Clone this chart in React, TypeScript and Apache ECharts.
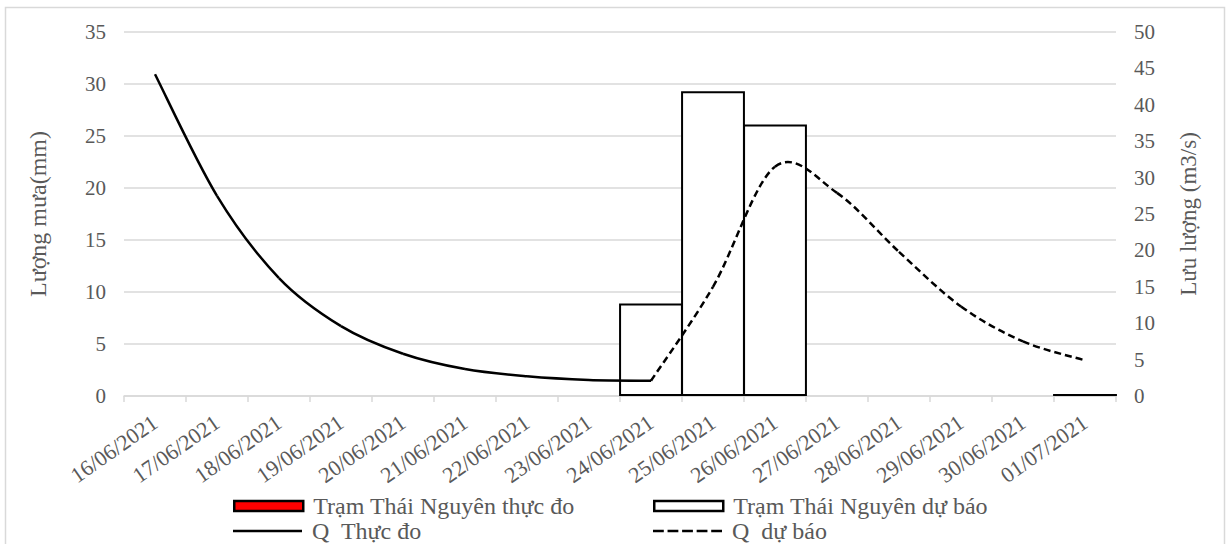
import React, { useEffect, useRef } from "react";
import * as echarts from "echarts";

const categories = [
  "16/06/2021", "17/06/2021", "18/06/2021", "19/06/2021", "20/06/2021", "21/06/2021",
  "22/06/2021", "23/06/2021", "24/06/2021", "25/06/2021", "26/06/2021", "27/06/2021",
  "28/06/2021", "29/06/2021", "30/06/2021", "01/07/2021",
];
const rainObserved = [null, null, null, null, null, null, null, null, null, null, null, null, null, null, null, null];
const rainForecast = [null, null, null, null, null, null, null, null, 8.9, 29.3, 26.1, null, null, null, null, 0.2];
const flowObserved = [44.2, 27.5, 16.2, 9.6, 5.8, 3.7, 2.7, 2.2, 2.1, null, null, null, null, null, null, null];
const flowForecast = [null, null, null, null, null, null, null, null, 2.1, 15.0, 31.5, 27.9, 19.8, 12.3, 7.5, 4.9];

const leftTicks = { min: 0, max: 35, interval: 5 };
const rightTicks = { min: 0, max: 50, interval: 5 };

const FONT = "'Liberation Serif', 'Times New Roman', serif";
const GRAY = "#595959";
const GRID = "#d9d9d9";

const SOLID_ICON = "path://M0,0H69V2.6H0Z";
const DASH_ICON =
  "path://M0,0H10.8V2.6H0Z M14.55,0H25.35V2.6H14.55Z M29.1,0H39.9V2.6H29.1Z M43.65,0H54.45V2.6H43.65Z M58.2,0H69V2.6H58.2Z";

// Excel-like smoothed line: each data item draws the cubic segment to the next point.
function smoothSegment(values: (number | null)[], dash: number[] | null) {
  return (params: any, api: any) => {
    const i = params.dataIndex;
    if (values[i] == null || values[i + 1] == null) return null;
    const pt = (k: number) => api.coord([k, values[k]]);
    const p1 = pt(i);
    const p2 = pt(i + 1);
    const p0 = i - 1 >= 0 && values[i - 1] != null ? pt(i - 1) : p1;
    const p3 = i + 2 < values.length && values[i + 2] != null ? pt(i + 2) : p2;
    return {
      type: "bezierCurve",
      shape: {
        x1: p1[0],
        y1: p1[1],
        cpx1: p1[0] + (p2[0] - p0[0]) / 6,
        cpy1: p1[1] + (p2[1] - p0[1]) / 6,
        cpx2: p2[0] - (p3[0] - p1[0]) / 6,
        cpy2: p2[1] - (p3[1] - p1[1]) / 6,
        x2: p2[0],
        y2: p2[1],
      },
      style: { stroke: "#000", lineWidth: 2.5, fill: null, lineDash: dash || undefined },
    };
  };
}

export default function App() {
  const ref = useRef<HTMLDivElement>(null);
  useEffect(() => {
    if (!ref.current) return;
    const chart = echarts.init(ref.current, undefined, { renderer: "svg" });
    const labelStyle = { color: GRAY, fontSize: 21, fontFamily: FONT };
    const legendText = { color: GRAY, fontSize: 24, fontFamily: FONT, lineHeight: 24, padding: [0, 0, 0, 5] };
    const legendBase = {
      orient: "horizontal",
      itemWidth: 69,
      itemHeight: 10,
      itemGap: 10,
      padding: 0,
      textStyle: legendText,
      itemStyle: { borderColor: "#000000", borderWidth: 2.5 },
    };
    chart.setOption({
      animation: false,
      backgroundColor: "#ffffff",
      textStyle: { fontFamily: FONT },
      graphic: [
        {
          type: "rect",
          shape: { x: 5.5, y: 7.5, width: 1219, height: 560 },
          style: { fill: "none", stroke: GRID, lineWidth: 1.5 },
          silent: true,
          z: -10,
        },
      ],
      grid: { left: 124, right: 116, top: 32, bottom: 148 },
      legend: [
        {
          ...legendBase,
          left: 233,
          top: 494,
          data: [
            { name: "Trạm Thái Nguyên thực đo", icon: "rect", itemStyle: { color: "#ff0000", borderColor: "#000000", borderWidth: 2.5 } },
          ],
        },
        {
          ...legendBase,
          left: 233,
          top: 519,
          itemStyle: { borderWidth: 0 },
          data: [{ name: "Q  Thực đo", icon: SOLID_ICON, itemStyle: { color: "#000000", borderWidth: 0 } }],
        },
        {
          ...legendBase,
          left: 653,
          top: 494,
          data: [
            { name: "Trạm Thái Nguyên dự báo", icon: "rect", itemStyle: { color: "#ffffff", borderColor: "#000000", borderWidth: 2.5 } },
          ],
        },
        {
          ...legendBase,
          left: 653,
          top: 519,
          itemStyle: { borderWidth: 0 },
          data: [{ name: "Q  dự báo", icon: DASH_ICON, itemStyle: { color: "#000000", borderWidth: 0 } }],
        },
      ],
      xAxis: {
        type: "category",
        data: categories,
        boundaryGap: true,
        axisLine: { lineStyle: { color: GRID, width: 1.5 } },
        axisTick: { show: true, alignWithLabel: false, length: 6, lineStyle: { color: GRID, width: 1.5 } },
        axisLabel: { ...labelStyle, fontSize: 22, rotate: 35, interval: 0, margin: 24 },
        splitLine: { show: false },
      },
      yAxis: [
        {
          type: "value",
          ...leftTicks,
          name: "Lượng mưa(mm)",
          nameLocation: "middle",
          nameRotate: 90,
          nameGap: 74,
          nameTextStyle: { color: GRAY, fontSize: 24, fontFamily: FONT },
          axisLine: { show: false },
          axisTick: { show: false },
          axisLabel: { ...labelStyle, margin: 18 },
          splitLine: { lineStyle: { color: GRID, width: 1.5 } },
        },
        {
          type: "value",
          ...rightTicks,
          position: "right",
          name: "Lưu lượng (m3/s)",
          nameLocation: "middle",
          nameRotate: 90,
          nameGap: 61,
          nameTextStyle: { color: GRAY, fontSize: 23, fontFamily: FONT },
          axisLine: { show: false },
          axisTick: { show: false },
          axisLabel: { ...labelStyle, margin: 18 },
          splitLine: { show: false },
        },
      ],
      series: [
        {
          name: "Trạm Thái Nguyên thực đo",
          type: "bar",
          data: rainObserved,
          barWidth: "103%",
          barGap: "-100%",
          itemStyle: { color: "#ff0000", borderColor: "#000", borderWidth: 2 },
        },
        {
          name: "Trạm Thái Nguyên dự báo",
          type: "bar",
          data: rainForecast,
          barWidth: "103%",
          barGap: "-100%",
          itemStyle: { color: "#ffffff", borderColor: "#000", borderWidth: 2 },
        },
        {
          name: "Q  Thực đo",
          type: "custom",
          yAxisIndex: 1,
          data: flowObserved.map((v, i) => [i, v]),
          encode: { x: 0, y: 1 },
          itemStyle: { color: "#000" },
          renderItem: smoothSegment(flowObserved, null),
          z: 3,
        },
        {
          name: "Q  dự báo",
          type: "custom",
          yAxisIndex: 1,
          data: flowForecast.map((v, i) => [i, v]),
          encode: { x: 0, y: 1 },
          itemStyle: { color: "#000" },
          renderItem: smoothSegment(flowForecast, [7, 4]),
          z: 3,
        },
      ],
    });
    return () => chart.dispose();
  }, []);
  return (
    <div
      ref={ref}
      style={{ position: "fixed", left: 0, top: 0, width: 1232, height: 544, background: "#fff" }}
    />
  );
}
